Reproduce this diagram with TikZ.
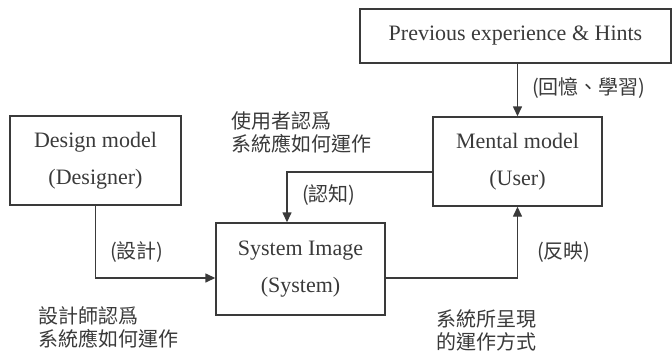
\documentclass[tikz,border=0pt]{standalone}
\usepackage{fontspec}
\setmainfont{Liberation Serif}
\newfontfamily\cjk{Noto Sans CJK TC}
\usetikzlibrary{arrows.meta}
\definecolor{ink}{HTML}{3A3A3A}
\begin{document}
\begin{tikzpicture}[x=1pt,y=-1pt,
  box/.style={draw=ink,line width=1.4pt,inner sep=0pt,align=center,text=ink,
    font=\fontsize{22}{26}\selectfont},
  conn/.style={draw=ink,line width=1.4pt,-{Triangle[width=9pt,length=10pt]}},
  lbl/.style={text=ink,font=\cjk\fontsize{20}{23}\selectfont,inner sep=0pt,align=left}]
\useasboundingbox (0,0) rectangle (672,353);
\node[box,minimum width=311pt,minimum height=54pt] (prev) at (515.5,36) {Previous experience \& Hints};
\node[box,minimum width=169pt,minimum height=89pt] (mental) at (517.5,161.5) {Mental model\\[11pt](User)};
\node[box,minimum width=171pt,minimum height=89pt] (design) at (95.5,160.5) {Design model\\[11pt](Designer)};
\node[box,minimum width=169pt,minimum height=92pt] (system) at (300.5,269) {System Image\\[11pt](System)};
\draw[conn] (prev.south -| mental.north) -- (mental.north);
\draw[conn] (design.south) |- ([yshift=-9pt]system.west);
\draw[conn] ([yshift=-10.5pt]mental.west) -| ([xshift=-13.5pt]system.north);
\draw[conn] ([yshift=-9pt]system.east) -| (mental.south);
\node[lbl,anchor=west] (l1) at (532,88) {(回憶、學習)};
\node[lbl,anchor=west] (l2) at (231,132) {使用者認爲\\系統應如何運作};
\node[lbl,anchor=west] (l3) at (302,195) {(認知)};
\node[lbl,anchor=west] (l4) at (110,252) {(設計)};
\node[lbl,anchor=west] (l5) at (537,252) {(反映)};
\node[lbl,anchor=west] (l6) at (38,327) {設計師認爲\\系統應如何運作};
\node[lbl,anchor=west] (l7) at (436,330) {系統所呈現\\的運作方式};
\end{tikzpicture}
\end{document}
